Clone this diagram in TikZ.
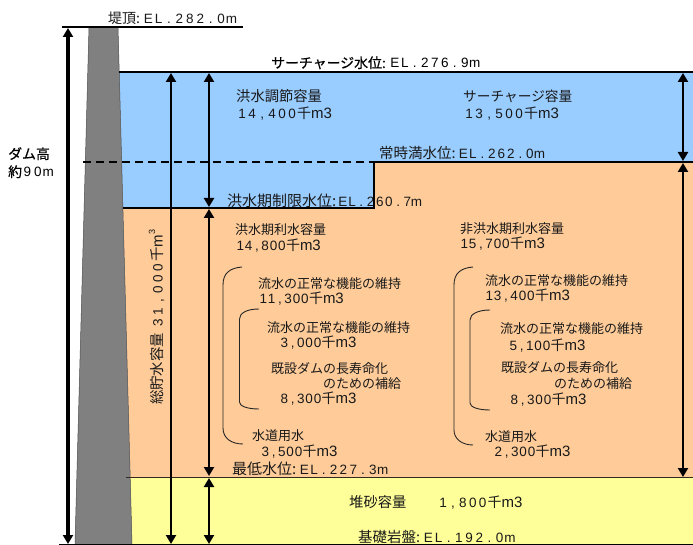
\documentclass[tikz,border=0pt]{standalone}
\usepackage{fontspec}
\usetikzlibrary{arrows.meta}
\newfontfamily\jpf{Noto Sans CJK JP}
\newfontfamily\jpm[FakeBold=0.5]{Noto Sans CJK JP}
\newfontfamily\latf{Liberation Sans}
\newfontfamily\unitf{Liberation Sans}
\makeatletter
\newcommand{\la}[2][9.5]{{\fontsize{13.5}{13.5}\selectfont\latf\@tfor\lach:=#2\do{\makebox[#1pt][c]{\lach}}}}
\makeatother
\newcommand{\un}{千{\fontsize{15}{15}\selectfont\unitf m3}}
\definecolor{blueW}{HTML}{99CCFF}
\definecolor{orangeW}{HTML}{FFCC99}
\definecolor{yellowS}{HTML}{FFFF99}
\definecolor{damG}{HTML}{808080}
\tikzset{
  lab/.style={anchor=base west,inner sep=0pt,yshift=-5pt,text=black!90,font=\fontsize{13}{13}\selectfont\jpf},
  big/.style={lab,font=\fontsize{14.3}{14}\selectfont\jpf},
  lev/.style={lab,font=\fontsize{14.5}{14}\selectfont\jpf},
  bold/.style={lab,text=black,font=\fontsize{13.9}{14}\selectfont\jpm},
  num/.style={lab,font=\fontsize{14}{14}\selectfont\jpf},
  rule/.style={line width=2pt,black},
  thin rule/.style={line width=1pt,black!80!orangeW},
  dim/.style={line width=2.2pt,{Triangle[width=10pt,length=9pt]}-{Triangle[width=10pt,length=9pt]}},
  dimbig/.style={line width=3.2pt,{Triangle[width=10pt,length=9pt]}-{Triangle[width=10pt,length=9pt]}},
  brace/.style={line width=0.9pt,black!85}
}
\begin{document}
\begin{tikzpicture}[x=1pt,y=-1pt]
\useasboundingbox (0,0) rectangle (693,545);
% regions
\fill[blueW] (119,72) -- (693,72) -- (693,162) -- (374,162) -- (374,208) -- (123,208) -- cycle;
\fill[orangeW] (123,208) -- (374,208) -- (374,162) -- (693,162) -- (693,477) -- (130,477) -- cycle;
\fill[yellowS] (130,477) -- (693,477) -- (693,544) -- (132,544) -- cycle;
\fill[damG] (89,27) -- (118,27) -- (132,544) -- (75,544) -- cycle;
\draw[line width=0.5pt,black!70] (89,27) -- (75,544) (118,27) -- (132,544);
% labels under the rules
\node[lab,font=\fontsize{15}{15}\selectfont\jpf] (t6) at (227,202) {洪水期制限水位:\hspace{2pt}\la[9.2]{EL.260.7m}};
% level rules
\coordinate (crestL) at (62,27); \coordinate (crestR) at (243,27);
\coordinate (surL) at (119,72); \coordinate (surR) at (693,72);
\coordinate (fullL) at (83,162); \coordinate (stepT) at (374,162); \coordinate (fullR) at (693,162);
\coordinate (stepB) at (374,208); \coordinate (floodL) at (123,208);
\coordinate (lowL) at (126,477); \coordinate (lowR) at (693,477);
\coordinate (baseL) at (59,544); \coordinate (baseR) at (693,544);
\draw[rule] (crestL) -- (crestR);
\draw[rule] (surL) -- (surR);
\draw[rule,dash pattern=on 8pt off 5pt] (fullL) -- (stepT);
\draw[rule] (fullR) -- (stepT) -- (stepB) -- (floodL);
\draw[thin rule] (lowL) -- (lowR);
\draw[line width=1pt,black] (baseL) -- (baseR);
% dimension arrows
\coordinate (a1t) at (68,28); \coordinate (a1b) at (68,544);
\coordinate (a2t) at (171,73); \coordinate (a2b) at (171,544);
\coordinate (a3a) at (209,73); \coordinate (a3b) at (209,207);
\coordinate (a3c) at (209,209); \coordinate (a3d) at (209,476);
\coordinate (a3e) at (209,478); \coordinate (a3f) at (209,544);
\coordinate (a4a) at (683,73); \coordinate (a4b) at (683,161);
\coordinate (a4c) at (683,163); \coordinate (a4d) at (683,477);
\draw[dimbig] (a1t) -- (a1b);
\draw[dim] (a2t) -- (a2b);
\draw[dim] (a3a) -- (a3b);
\draw[dim] (a3c) -- (a3d);
\draw[dim] (a3e) -- (a3f);
\draw[dim] (a4a) -- (a4b);
\draw[dim] (a4c) -- (a4d);
% braces
\draw[brace] (242,267) .. controls (230,268) and (223,273) .. (223,285) -- (223,428) .. controls (223,438) and (231,444) .. (243,444);
\draw[brace] (259,309) .. controls (247,309) and (239.5,313) .. (239.5,319) -- (239.5,402) .. controls (239.5,406) and (247,409) .. (259,409);
\draw[brace] (473,267) .. controls (461,268) and (454,273) .. (454,285) -- (454,430) .. controls (454,439) and (462,445) .. (473,445);
\draw[brace] (490,310) .. controls (478,310) and (470,314) .. (470,320) -- (470,403) .. controls (470,407) and (478,410) .. (490,410);
% texts
\node[lev,font=\fontsize{14}{14}\selectfont\jpf] (t1) at (108,19) {堤頂:\hspace{3pt}\la[10.4]{EL.282.0m}};
\node[bold] (t2) at (271,63) {サーチャージ水位:\hspace{4pt}\la[10]{EL.276.9m}};
\node[big] (t3) at (236,97) {洪水調節容量};
\node[num] (t3n) at (237,114) {\la[10]{14,400}\un};
\node[big,font=\fontsize{13.7}{14}\selectfont\jpf] (t4) at (463,97) {サーチャージ容量};
\node[num] (t4n) at (464,114) {\la[10]{13,500}\un};
\node[lev] (t5) at (379,154) {常時満水位:\hspace{3pt}\la[9.5]{EL.262.0m}};
\node[lab] (t7) at (235,230) {洪水期利水容量};
\node[num] (t7n) at (236,246) {\la[8.3]{14,800}\un};
\node[lab] (t8) at (460,229) {非洪水期利水容量};
\node[num] (t8n) at (460,244) {\la[8.3]{15,700}\un};
\node[lab] (t9) at (258,283) {流水の正常な機能の維持};
\node[num] (t9n) at (259,298) {\la[8.3]{11,300}\un};
\node[lab] (t10) at (485,281) {流水の正常な機能の維持};
\node[num] (t10n) at (485,296) {\la[8.3]{13,400}\un};
\node[lab] (t11) at (267,327) {流水の正常な機能の維持};
\node[num] (t11n) at (280,342) {\la[8.3]{3,000}\un};
\node[lab] (t12) at (500,328) {流水の正常な機能の維持};
\node[num] (t12n) at (509,345) {\la[8.3]{5,100}\un};
\node[lab] (t13) at (271,368) {既設ダムの長寿命化};
\node[lab] (t13b) at (323,383) {のための補給};
\node[num] (t13n) at (280,398) {\la[8.3]{8,300}\un};
\node[lab] (t14) at (501,367) {既設ダムの長寿命化};
\node[lab] (t14b) at (554,383) {のための補給};
\node[num] (t14n) at (510,399) {\la[8.3]{8,300}\un};
\node[lab] (t15) at (252,435) {水道用水};
\node[num] (t15n) at (261,451) {\la[8.3]{3,500}\un};
\node[lab] (t16) at (485,436) {水道用水};
\node[num] (t16n) at (494,451) {\la[8.3]{2,300}\un};
\node[lev,font=\fontsize{15}{15}\selectfont\jpf] (t17) at (232,469) {最低水位:\hspace{3pt}\la[9.8]{EL.227.3m}};
\node[big] (t18) at (349,502) {堆砂容量};
\node[num] (t18n) at (438,502) {\la[9.9]{1,800}\un};
\node[lev] (t19) at (358,537) {基礎岩盤:\hspace{3pt}\la[10.2]{EL.192.0m}};
\node[bold] (t20) at (8,154) {ダム高};
\node[bold] (t21) at (8,172) {約\la[10.5]{90m}};
\node[lab,rotate=90,anchor=base west,yshift=0pt,xshift=0pt,font=\fontsize{14.4}{14}\selectfont\jpf] (t22) at (162.5,400) {総貯水容量\hspace{5pt}\la[11]{31,000}千{\fontsize{15}{15}\selectfont\unitf m\raisebox{0.5em}{\fontsize{9}{9}\selectfont 3}}};
\end{tikzpicture}
\end{document}
